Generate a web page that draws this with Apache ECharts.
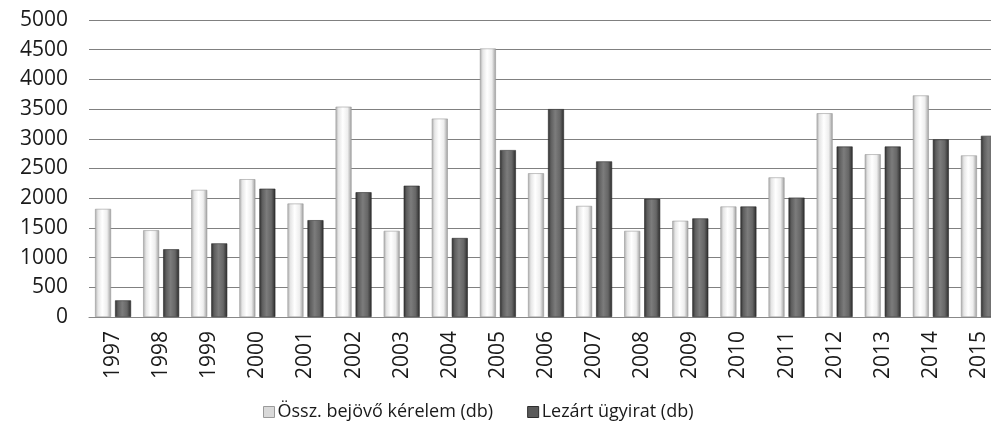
<!DOCTYPE html>
<html>
<head>
<meta charset="utf-8">
<script src="https://cdn.jsdelivr.net/npm/echarts@6/dist/echarts.min.js"></script>
<style>
html,body{margin:0;padding:0;background:#fff;overflow:hidden;width:991px;height:426px;}
#chart{width:1003px;height:426px;}
</style>
</head>
<body>
<div id="chart"></div>
<script>
const categories = ['1997','1998','1999','2000','2001','2002','2003','2004','2005','2006','2007','2008','2009','2010','2011','2012','2013','2014','2015'];
const incoming = [1820,1460,2140,2320,1910,3540,1450,3340,4520,2420,1870,1450,1620,1860,2350,3430,2740,3730,2720];
const closed = [280,1140,1240,2160,1630,2100,2210,1330,2810,3500,2620,1990,1660,1860,2010,2870,2870,2990,3050];
const yTicks = [0,500,1000,1500,2000,2500,3000,3500,4000,4500,5000];
const seriesNames = ['Össz. bejövő kérelem (db)','Lezárt ügyirat (db)'];

const FONT = 'Open Sans';
const whiteFill = new echarts.graphic.LinearGradient(0,0,1,0,[
  {offset:0,color:'#a9a9a9'},{offset:0.18,color:'#e6e6e6'},{offset:0.45,color:'#ffffff'},
  {offset:0.75,color:'#eeeeee'},{offset:1,color:'#9c9c9c'}]);
const darkFill = new echarts.graphic.LinearGradient(0,0,1,0,[
  {offset:0,color:'#2e2e2e'},{offset:0.18,color:'#5e5e5e'},{offset:0.45,color:'#7c7c7c'},
  {offset:0.75,color:'#666666'},{offset:1,color:'#2a2a2a'}]);

const chart = echarts.init(document.getElementById('chart'), null, {renderer:'canvas'});
chart.setOption({
  animation:false,
  textStyle:{fontFamily:FONT},
  grid:{left:89,right:0,top:20,bottom:109,containLabel:false},
  legend:{
    data:[{name:seriesNames[0],itemStyle:{color:'#d9d9d9',borderColor:'#9a9a9a',borderWidth:1}},
          {name:seriesNames[1],itemStyle:{color:'#5a5a5a',borderColor:'#2e2e2e',borderWidth:1}}],
    left:258, top:398, itemWidth:11, itemHeight:11, itemGap:34, icon:'rect',
    textStyle:{fontFamily:FONT,fontSize:18,color:'#1a1a1a',padding:[0,0,0,-2]}
  },
  xAxis:{
    type:'category', data:categories,
    axisLine:{show:true,lineStyle:{color:'#888',width:1}},
    axisTick:{show:false},
    axisLabel:{rotate:90,fontFamily:FONT,fontSize:21,color:'#1a1a1a',margin:14,interval:0}
  },
  yAxis:{
    type:'value', min:0, max:5000, interval:500,
    axisLine:{show:false}, axisTick:{show:false},
    axisLabel:{fontFamily:FONT,fontSize:21,color:'#1a1a1a',margin:21,
      formatter:v=>yTicks.includes(v)?String(v):''},
    splitLine:{lineStyle:{color:'#808080',width:1}}
  },
  series:[
    {name:seriesNames[0],type:'bar',data:incoming,barWidth:16,barGap:'25%',
     itemStyle:{color:whiteFill,borderColor:'#9a9a9a',borderWidth:0.6}},
    {name:seriesNames[1],type:'bar',data:closed,barWidth:16,barGap:'25%',
     itemStyle:{color:darkFill,borderColor:'#2a2a2a',borderWidth:0.6}}
  ]
});
</script>
</body>
</html>
